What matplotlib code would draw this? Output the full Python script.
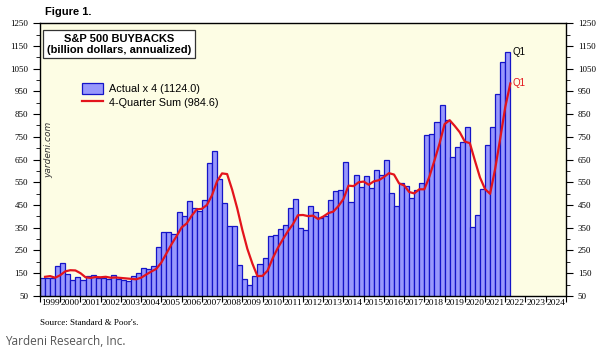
import numpy as np
import matplotlib.pyplot as plt

# quarterly S&P 500 buybacks x 4 (billion $), 1999Q1 .. 2022Q1
actual_x4 = [
    130, 127, 127, 181,   # 1999
    196, 148, 122, 134,   # 2000
    122, 137, 140, 129,   # 2001
    129, 123, 141, 124,   # 2002
    118, 115, 136, 151,   # 2003
    172, 170, 181, 265,   # 2004
    331, 331, 324, 419,   # 2005
    400, 468, 438, 424,   # 2006
    471, 634, 686, 565,   # 2007
    458, 359, 359, 187,   # 2008
    123, 97, 139, 191,    # 2009
    217, 314, 316, 346,   # 2010
    360, 438, 475, 350,   # 2011
    339, 446, 417, 392,   # 2012
    402, 472, 513, 518,   # 2013
    637, 465, 580, 530,   # 2014
    579, 526, 602, 584,   # 2015
    646, 504, 447, 545,   # 2016
    532, 480, 517, 548,   # 2017
    756, 762, 815, 892,   # 2018
    823, 662, 704, 726,   # 2019
    795, 355, 407, 522,   # 2020
    712, 795, 938, 1080,  # 2021
    1124,                 # 2022
]

four_q_sum = [
    134, 137, 130, 141,
    158, 163, 162, 150,
    132, 129, 133, 132,
    134, 130, 131, 129,
    127, 125, 123, 130,
    144, 157, 169, 197,
    237, 277, 313, 351,
    369, 403, 431, 433,
    450, 492, 554, 589,
    586, 517, 435, 341,
    257, 192, 137, 138,
    161, 215, 260, 298,
    334, 365, 405, 406,
    401, 403, 388, 399,
    414, 421, 445, 476,
    535, 533, 550, 553,
    539, 554, 559, 573,
    590, 584, 545, 536,
    507, 501, 519, 519,
    575, 646, 720, 806,
    823, 798, 770, 729,
    722, 645, 571, 520,
    499, 609, 742, 881,
    984.6,
]

years = list(range(1999, 2025))
y_ticks = list(range(50, 1251, 100))

fig = plt.figure(figsize=(5.97, 3.51), dpi=100)
ax = fig.add_axes([0.067, 0.157, 0.881, 0.777])
ax.set_facecolor('#fdfde4')

x_start = 1999 + np.arange(len(actual_x4)) / 4
bars = ax.bar(x_start, actual_x4, width=0.25, align='edge', color='#9898fc',
              edgecolor='#1414c8', linewidth=0.9, label='Actual x 4 (1124.0)', zorder=2)
line, = ax.plot(x_start + 0.25, four_q_sum, color='#e3141c', lw=1.6,
                label='4-Quarter Sum (984.6)', zorder=3)

ax.set_xlim(1999, 2025)
ax.set_ylim(50, 1250)

# x axis: ticks at year boundaries, labels centred in each year
ax.set_xticks(range(1999, 2026))
ax.set_xticklabels([])
ax.set_xticks([y + 0.5 for y in years], minor=True)
ax.set_xticklabels([str(y) for y in years], minor=True,
                   family='Liberation Serif', fontsize=6.8)
ax.tick_params(axis='x', which='major', direction='out', length=4, width=0.8)
ax.tick_params(axis='x', which='minor', length=0, pad=2)

# y axis on both sides
ax.set_yticks(y_ticks)
ax.set_yticks(range(100, 1250, 100), minor=True)
ax.set_yticklabels([str(v) for v in y_ticks], family='Liberation Serif', fontsize=6.5)
ax.tick_params(axis='y', which='both', left=True, right=True,
               labelleft=True, labelright=True, direction='out')
ax.tick_params(axis='y', which='major', length=5, width=0.8)
ax.tick_params(axis='y', which='minor', length=3, width=0.6)
for s in ax.spines.values():
    s.set_linewidth(1.0)

ax.text(0.150, 0.923, 'S&P 500 BUYBACKS\n(billion dollars, annualized)',
        transform=ax.transAxes, ha='center', va='center', fontsize=8,
        fontweight='bold', family='Liberation Sans', linespacing=1.1,
        bbox=dict(boxstyle='square,pad=0.35', facecolor='white', edgecolor='#333333', lw=0.9))

ax.legend(handles=[bars, line], loc='upper left', bbox_to_anchor=(0.062, 0.815),
          frameon=False, prop={'family': 'Liberation Sans', 'size': 7.8},
          handlelength=1.9, handleheight=1.1, labelspacing=0.25, handletextpad=0.6)

ax.text(0.016, 0.535, 'yardeni.com', transform=ax.transAxes, rotation=90,
        ha='center', va='center', fontsize=6.5, style='italic', color='#333333')

ax.text(x_start[-1] + 0.35, actual_x4[-1], 'Q1', fontsize=7, color='black',
        va='center', family='Liberation Sans')
ax.text(x_start[-1] + 0.35, four_q_sum[-1], 'Q1', fontsize=7, color='#e3141c',
        va='center', family='Liberation Sans')

fig.text(0.075, 0.966, 'Figure 1.', fontsize=8, fontweight='bold',
         family='Liberation Sans', va='center')
fig.text(0.067, 0.080, "Source: Standard & Poor's.", fontsize=6.5,
         family='Liberation Serif', va='center')
fig.text(0.008, 0.028, 'Yardeni Research, Inc.', fontsize=8.5,
         family='Open Sans', color='#555555', va='center')

fig.savefig('out.png', dpi=100)
